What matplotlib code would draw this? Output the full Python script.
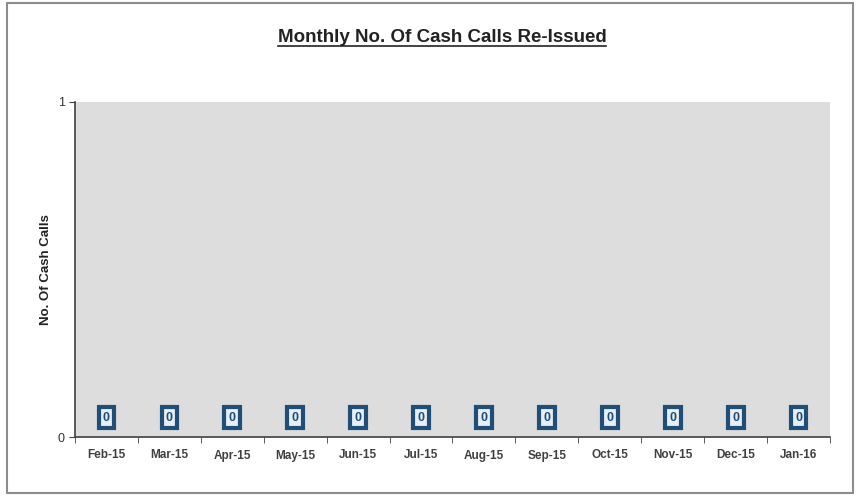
import numpy as np
import matplotlib
matplotlib.use('Agg')
import matplotlib.pyplot as plt
from matplotlib.patches import Rectangle
from matplotlib.lines import Line2D

months = ['Feb-15', 'Mar-15', 'Apr-15', 'May-15', 'Jun-15', 'Jul-15',
          'Aug-15', 'Sep-15', 'Oct-15', 'Nov-15', 'Dec-15', 'Jan-16']
calls = [0, 0, 0, 0, 0, 0, 0, 0, 0, 0, 0, 0]

plt.rcParams['font.family'] = ['Liberation Sans', 'DejaVu Sans']

fig = plt.figure(figsize=(8.6, 5), dpi=100)
fig.patch.set_facecolor('white')
fig.patches.append(Rectangle((7/860, 7/500), 846/860, 490/500, transform=fig.transFigure,
                             fill=False, edgecolor='#8c8c8c', linewidth=1.5))

ax = fig.add_axes([75/860, 63/500, 755/860, 335/500])
ax.set_facecolor('#dddddd')

X = np.arange(len(months))
bars = ax.bar(X, calls, width=0.6, color='#1f4e79')
for x, y in zip(X, calls):
    ax.annotate(str(y), (x, y), xytext=(0, 14), textcoords='offset points',
                ha='center', va='center', fontsize=9, fontweight='bold', color='#1f4e79',
                bbox=dict(boxstyle='square,pad=0.35', facecolor='#e8eef5',
                          edgecolor='#1f4e79', linewidth=3))

ax.set_xlim(-0.5, len(months) - 0.5)
ax.set_ylim(0, 1)
ax.set_yticks([0, 1])
ax.set_xticks(X)
ax.set_xticklabels(months, fontsize=8.5, color='#404040', fontweight='bold')
ax.set_xticks(np.arange(-0.5, len(months), 1), minor=True)
ax.tick_params(axis='x', which='major', length=0, pad=9)
ax.tick_params(axis='x', which='minor', length=4, color='#404040')
ax.tick_params(axis='y', length=4, color='#404040', labelsize=9, labelcolor='#333333')
for s in ['top', 'right']:
    ax.spines[s].set_visible(False)
for s in ['left', 'bottom']:
    ax.spines[s].set_color('#404040')
    ax.spines[s].set_linewidth(1.2)

ax.set_ylabel('No. Of Cash Calls', fontsize=9.5, fontweight='bold', color='#222222', labelpad=4)

t = fig.text(442/860, 1 - 38/500, 'Monthly No. Of Cash Calls Re-Issued', ha='center', va='center',
             fontsize=13.5, fontweight='bold', color='#222222')
fig.canvas.draw()
bb = t.get_window_extent(renderer=fig.canvas.get_renderer()).transformed(fig.transFigure.inverted())
fig.lines.append(Line2D([bb.x0, bb.x1], [bb.y0 + 0.002, bb.y0 + 0.002], transform=fig.transFigure,
                        color='#222222', linewidth=1.2))

plt.savefig('out.png', dpi=100)
